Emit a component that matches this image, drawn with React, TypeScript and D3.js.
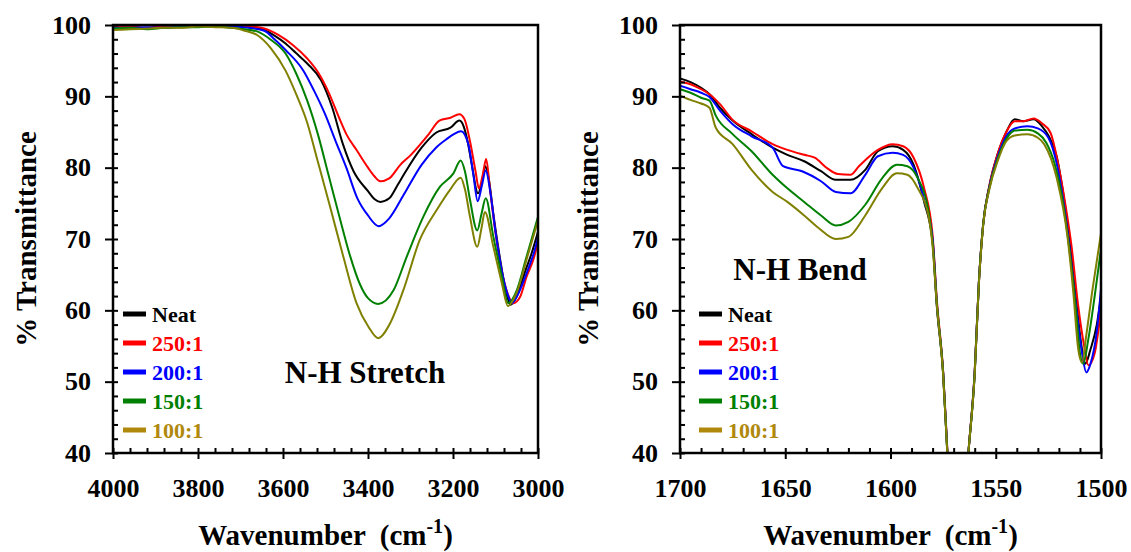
import React, { useEffect, useRef } from "react";
import * as d3 from "d3";

// legend / series
const seriesNames = ["Neat", "250:1", "200:1", "150:1", "100:1"];
const lineColors = ["#000000", "#ff0000", "#0000ff", "#008000", "#808000"];
const legendColors = ["#000000", "#ff0000", "#0000ff", "#008000", "#b0880c"];

// N-H stretch region, [wavenumber, %T]
const stretchNeat = [[4000,99.6],[3960,99.7],[3920,99.5],[3880,99.8],[3840,99.7],[3800,99.9],[3760,99.8],[3720,99.9],[3680,99.7],[3644,99.3],[3620,98.5],[3594,97.4],[3570,96.1],[3543,94.6],[3510,92.2],[3484,88.4],[3459,83.3],[3434,79.5],[3400,76.7],[3385,75.6],[3371,75.2],[3350,75.7],[3330,77.6],[3316,79.0],[3274,82.8],[3240,84.9],[3206,85.6],[3185,86.6],[3175,85.8],[3165,83.5],[3156,80.5],[3141,76.4],[3132,78.0],[3124,80.2],[3116,78.5],[3105,73.5],[3090,67.5],[3075,62.5],[3064,60.8],[3050,62.0],[3030,65.5],[3015,68.0],[3000,71.0]];
const stretch250 = [[4000,99.7],[3960,99.8],[3920,99.6],[3880,99.9],[3840,99.8],[3800,100],[3760,99.9],[3720,99.9],[3680,99.8],[3644,99.5],[3611,98.6],[3577,97.2],[3543,95.3],[3518,93.4],[3493,90.6],[3468,87.0],[3451,84.7],[3425,82.3],[3400,80.0],[3385,78.8],[3371,78.1],[3350,78.5],[3324,80.4],[3299,81.8],[3257,84.7],[3232,86.6],[3206,87.0],[3185,87.5],[3173,86.8],[3160,83.7],[3147,79.5],[3139,77.1],[3130,79.0],[3122,81.2],[3113,77.0],[3101,71.3],[3089,66.6],[3074,62.8],[3058,61.0],[3042,61.9],[3027,64.7],[3011,67.1],[3000,69.5]];
const stretch200 = [[4000,99.6],[3960,99.6],[3920,99.7],[3880,99.6],[3840,99.8],[3800,99.8],[3760,99.9],[3720,99.8],[3680,99.6],[3644,99.2],[3620,98.0],[3594,96.5],[3552,93.6],[3527,90.8],[3501,87.5],[3476,83.7],[3451,80.0],[3425,75.7],[3400,73.3],[3375,71.8],[3350,72.9],[3316,76.2],[3274,80.4],[3240,82.8],[3215,84.0],[3198,84.7],[3181,85.1],[3164,83.3],[3152,79.0],[3142,75.3],[3132,77.5],[3123,79.6],[3112,76.5],[3100,71.0],[3085,65.5],[3070,62.0],[3062,61.0],[3045,62.5],[3025,65.5],[3010,68.0],[3000,70.2]];
const stretch150 = [[4000,99.5],[3960,99.6],[3920,99.4],[3880,99.6],[3840,99.7],[3800,99.7],[3760,99.8],[3720,99.6],[3690,99.4],[3661,99.1],[3628,97.9],[3594,96.0],[3569,93.2],[3543,89.4],[3518,84.7],[3493,79.0],[3468,73.3],[3442,67.6],[3420,63.8],[3400,61.7],[3376,60.9],[3340,62.8],[3309,67.5],[3270,73.1],[3231,77.3],[3199,79.2],[3182,81.0],[3172,79.5],[3160,75.5],[3143,71.2],[3133,73.5],[3123,75.7],[3105,70.3],[3085,64.7],[3070,61.0],[3050,62.8],[3027,67.5],[3000,73.1]];
const stretch100 = [[4000,99.3],[3960,99.4],[3920,99.5],[3880,99.6],[3840,99.6],[3800,99.8],[3760,99.7],[3720,99.6],[3690,99.2],[3661,98.6],[3628,96.7],[3594,93.6],[3569,90.3],[3543,86.3],[3521,81.5],[3489,74.5],[3458,67.5],[3427,61.0],[3399,57.7],[3376,56.1],[3348,58.2],[3317,62.8],[3278,69.9],[3238,74.1],[3207,76.9],[3182,78.6],[3172,77.0],[3160,73.1],[3143,68.9],[3133,71.5],[3125,73.8],[3105,68.9],[3085,63.8],[3071,60.6],[3050,62.5],[3025,67.5],[3000,72.6]];

// N-H bend region
const bendNeat = [[1700,92.5],[1695,92.0],[1690,91.2],[1686,90.3],[1681,88.4],[1675,86.6],[1666,84.7],[1656,82.8],[1649,81.8],[1641,80.9],[1633,79.5],[1626,78.3],[1619,78.3],[1612,79.7],[1606,82.3],[1599,83.0],[1594,82.5],[1589,80.4],[1584,75.2],[1580,69.6],[1578,60.6],[1575,51.2],[1573,40],[1570,28],[1568,25],[1566,28],[1563,40],[1560,51.2],[1558,64],[1556,72],[1553,77.5],[1549,82],[1545,85],[1541,86.8],[1537,86.5],[1532,86.8],[1528,85.8],[1525,84.5],[1521,81.5],[1518,76.5],[1515,70],[1512,62],[1509,54.5],[1507.5,52.5],[1505,54.5],[1502,58],[1500,62]];
const bend250 = [[1700,92.1],[1695,91.7],[1690,91.0],[1686,90.3],[1681,88.9],[1675,86.7],[1666,85.1],[1656,83.3],[1649,82.5],[1641,81.8],[1636,81.4],[1630,79.9],[1625,79.1],[1619,79.0],[1615,80.2],[1606,82.5],[1599,83.3],[1594,83.0],[1589,81.4],[1584,77.1],[1580,70.5],[1578,61.5],[1575,51.5],[1573,40.5],[1570,28],[1568,25],[1566,28],[1563,40],[1560,51.5],[1558,64],[1556,72],[1553,77.5],[1549,82],[1545,85],[1541,86.5],[1537,86.5],[1532,86.9],[1528,86.2],[1524,84.9],[1520,80],[1517,75],[1514,69],[1511,61],[1508,55],[1506,52.3],[1503,54],[1500,60.2]];
const bend200 = [[1700,91.5],[1695,91.0],[1690,90.5],[1686,89.9],[1681,88.0],[1675,86.1],[1666,84.4],[1656,82.8],[1651,80.2],[1642,79.5],[1633,78.1],[1626,76.6],[1619,76.4],[1612,79.0],[1606,81.6],[1599,82.1],[1594,81.8],[1589,80.0],[1584,75.5],[1580,70.0],[1578,61],[1575,51.3],[1573,40.2],[1570,28],[1568,25],[1566,28],[1563,40],[1560,51.3],[1558,64],[1556,72],[1553,77.3],[1549,81.6],[1545,84.4],[1541,85.5],[1535,85.8],[1530,85.5],[1525,84.2],[1521,80.5],[1518,75.5],[1515,69],[1512,61],[1509,54],[1507,51.3],[1505,52.5],[1502,57],[1500,63]];
const bend150 = [[1700,91.0],[1695,90.5],[1690,89.8],[1686,89.4],[1683,87.3],[1675,84.7],[1666,82.3],[1656,79.0],[1649,77.1],[1641,75.2],[1633,73.3],[1626,71.9],[1620,72.4],[1612,74.8],[1604,78.5],[1597,80.4],[1592,80.2],[1587,78.5],[1582,74.0],[1580,69.5],[1578,61],[1575,51.2],[1573,40],[1570,28],[1568,25],[1566,28],[1563,40],[1560,51.2],[1558,64],[1556,72],[1553,77.2],[1549,81.3],[1545,84.0],[1541,85.2],[1535,85.3],[1530,84.8],[1526,83.5],[1522,80.5],[1518,75],[1515,68.5],[1512,60.5],[1510,54],[1508.5,52.5],[1506,56],[1503,62],[1500,68.6]];
const bend100 = [[1700,90.1],[1695,89.5],[1690,89.0],[1686,88.4],[1683,85.6],[1675,83.3],[1666,79.7],[1656,76.6],[1649,75.2],[1641,73.3],[1634,71.5],[1626,70.0],[1620,70.3],[1612,73.3],[1604,77.1],[1597,79.2],[1592,79.0],[1587,77.1],[1582,73.3],[1580,69.0],[1578,60.8],[1575,51],[1573,40],[1570,28],[1568,25],[1566,28],[1563,40],[1560,51],[1558,63.8],[1556,71.8],[1553,77],[1549,81],[1545,83.7],[1541,84.5],[1535,84.7],[1530,84.2],[1527,83.3],[1521,78.5],[1516,70.5],[1513,62],[1511,55],[1509,52.7],[1507,56.5],[1504,63],[1500,70.8]];

const stretchSeries = [stretchNeat, stretch250, stretch200, stretch150, stretch100];
const bendSeries = [bendNeat, bend250, bend200, bend150, bend100];

const yTicks = [40, 50, 60, 70, 80, 90, 100];
const stretchTicks = [4000, 3800, 3600, 3400, 3200, 3000];
const bendTicks = [1700, 1650, 1600, 1550, 1500];

const FONT = "'Liberation Serif', 'Times New Roman', serif";
const TOP = 25, BOTTOM = 453;

function drawPanel(svg, p) {
  const g = svg.append("g");
  const x = d3.scaleLinear().domain(p.domain).range([p.x0, p.x1]);
  const y = d3.scaleLinear().domain([40, 100]).range([BOTTOM, TOP]);

  // clip so the strong 1570 band is cut at the frame
  svg.append("clipPath").attr("id", p.id + "_clip")
    .append("rect").attr("x", p.x0).attr("y", TOP).attr("width", p.x1 - p.x0).attr("height", BOTTOM - TOP);

  const line = d3.line().x(d => x(d[0])).y(d => y(d[1])).curve(d3.curveMonotoneX);
  g.append("g").attr("clip-path", `url(#${p.id}_clip)`)
    .selectAll("path").data(p.series).join("path")
    .attr("d", d => line(d))
    .attr("fill", "none")
    .attr("stroke", (d, i) => lineColors[i])
    .attr("stroke-width", 2);

  // minor ticks (inside)
  const minorY = g.append("g").attr("transform", `translate(${p.x0},0)`)
    .call(d3.axisRight(y).tickValues(d3.range(40, 101, 2)).tickSize(5).tickFormat(() => ""));
  const minorX = g.append("g").attr("transform", `translate(0,${BOTTOM})`)
    .call(d3.axisTop(x).tickValues(d3.range(p.domain[1], p.domain[0] + 1, p.minorStep)).tickSize(5).tickFormat(() => ""));

  // major ticks (outside) + labels
  const majorY = g.append("g").attr("transform", `translate(${p.x0},0)`)
    .call(d3.axisLeft(y).tickValues(yTicks).tickSize(8).tickPadding(14).tickFormat(d3.format("d")));
  const majorX = g.append("g").attr("transform", `translate(0,${BOTTOM})`)
    .call(d3.axisBottom(x).tickValues(p.ticks).tickSize(6).tickPadding(20).tickFormat(d3.format("d")));

  [minorY, minorX, majorY, majorX].forEach(a => {
    a.select(".domain").remove();
    a.selectAll("line").attr("stroke", "#000").attr("stroke-width", 2);
    a.selectAll("text").attr("fill", "#000").style("font-family", FONT)
      .style("font-size", "26px").style("font-weight", "bold");
  });

  g.append("rect").attr("x", p.x0).attr("y", TOP).attr("width", p.x1 - p.x0).attr("height", BOTTOM - TOP)
    .attr("fill", "none").attr("stroke", "#000").attr("stroke-width", 2.5);

  // axis titles
  const xt = g.append("text").attr("x", (p.x0 + p.x1) / 2).attr("y", 545).attr("text-anchor", "middle")
    .style("font-family", FONT).style("font-size", "29px").style("font-weight", "bold");
  xt.append("tspan").text("Wavenumber");
  xt.append("tspan").attr("dx", 14).text("(cm");
  xt.append("tspan").attr("dy", -12).style("font-size", "20px").text("-1");
  xt.append("tspan").attr("dy", 12).text(")");

  g.append("text").attr("transform", `translate(${p.titleX},${(TOP + BOTTOM) / 2}) rotate(-90)`)
    .attr("text-anchor", "middle")
    .style("font-family", FONT).style("font-size", "29px").style("font-weight", "bold")
    .text("% Transmittance");

  // legend
  const lg = g.append("g");
  seriesNames.forEach((name, i) => {
    const ly = 314 + i * 29;
    lg.append("line").attr("x1", p.legendX).attr("x2", p.legendX + 23).attr("y1", ly).attr("y2", ly)
      .attr("stroke", legendColors[i]).attr("stroke-width", 5);
    lg.append("text").attr("x", p.legendX + 29).attr("y", ly).attr("dy", "0.35em")
      .attr("fill", legendColors[i])
      .style("font-family", FONT).style("font-size", "22px").style("font-weight", "bold")
      .text(name);
  });

  g.append("text").attr("x", p.noteX).attr("y", p.noteY).attr("text-anchor", "middle")
    .style("font-family", FONT).style("font-size", "31px").style("font-weight", "bold")
    .text(p.note);
}

export default function App() {
  const ref = useRef(null);
  useEffect(() => {
    const svg = d3.select(ref.current);
    svg.selectAll("*").remove();
    drawPanel(svg, {
      id: "stretch", domain: [4000, 3000], x0: 113, x1: 538, ticks: stretchTicks, minorStep: 40,
      series: stretchSeries, titleX: 36, legendX: 123, note: "N-H Stretch", noteX: 365, noteY: 383
    });
    drawPanel(svg, {
      id: "bend", domain: [1700, 1500], x0: 680, x1: 1101, ticks: bendTicks, minorStep: 10,
      series: bendSeries, titleX: 598, legendX: 699, note: "N-H Bend", noteX: 800, noteY: 280
    });
  }, []);
  return (
    <svg ref={ref} width={1131} height={552}
      style={{ position: "absolute", left: 0, top: 0, background: "#fff" }} />
  );
}
